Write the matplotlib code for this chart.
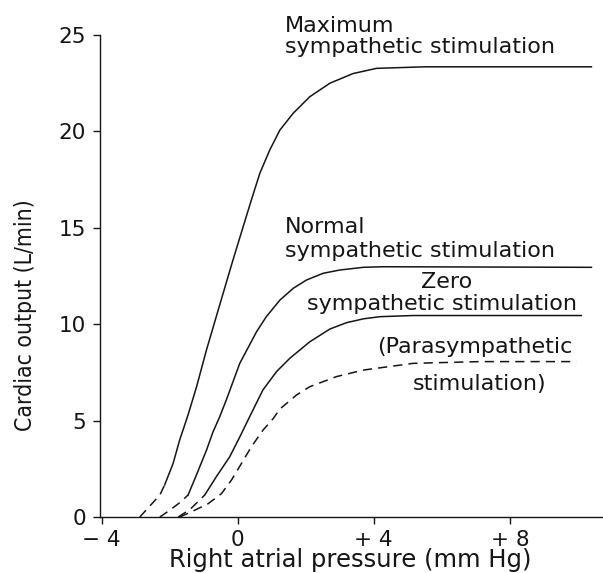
import matplotlib
matplotlib.use("Agg")
import matplotlib.pyplot as plt

# ---- data ----
max_dash_x = [-2.88, -2.74, -2.29, -2.15]
max_dash_y = [0.0, 0.27, 1.14, 1.66]
max_x = [-2.15, -1.90, -1.71, -1.46, -1.21, -0.92, -0.43, -0.14, 0.16, 0.40, 0.65,
         0.94, 1.24, 1.63, 2.12, 2.71, 3.39, 4.08, 5.5, 10.4]
max_y = [1.66, 2.78, 3.98, 5.3, 6.76, 8.66, 11.6, 13.33, 15.06, 16.44, 17.83,
         19.03, 20.07, 20.94, 21.8, 22.5, 23.0, 23.27, 23.35, 23.35]

norm_dash_x = [-2.29, -2.0, -1.7, -1.46]
norm_dash_y = [0.0, 0.35, 0.75, 1.14]
norm_x = [-1.46, -1.21, -0.92, -0.73, -0.53, -0.33, 0.06, 0.55, 0.84, 1.24, 1.63, 2.02,
          2.51, 3.0, 3.69, 4.27, 10.4]
norm_y = [1.14, 2.2, 3.46, 4.4, 5.2, 6.1, 7.97, 9.6, 10.39, 11.25, 11.86, 12.29,
          12.64, 12.81, 12.95, 12.98, 12.95]

zero_dash_x = [-1.75, -1.4, -0.97]
zero_dash_y = [0.0, 0.4, 1.14]
zero_x = [-0.97, -0.63, -0.24, 0.06, 0.35, 0.74, 1.14, 1.53, 2.12, 2.71, 3.2, 3.7, 4.18,
          5.16, 10.1]
zero_y = [1.14, 2.09, 3.11, 4.15, 5.2, 6.59, 7.54, 8.23, 9.09, 9.75, 10.08, 10.28, 10.39,
          10.45, 10.45]

para_x = [-1.71, -1.36, -0.87, -0.48, -0.19, 0.11, 0.40, 0.74, 1.04, 1.24, 1.73, 2.12,
          2.9, 3.69, 5.16, 7.12, 9.96]
para_y = [0.0, 0.27, 0.69, 1.21, 1.9, 2.78, 3.64, 4.5, 5.1, 5.6, 6.33, 6.76,
          7.28, 7.62, 7.97, 8.06, 8.06]

x_ticks = [-4, 0, 4, 8]
x_tick_labels = ["\u2212 4", "0", "+ 4", "+ 8"]
y_ticks = [0, 5, 10, 15, 20, 25]
y_tick_labels = ["0", "5", "10", "15", "20", "25"]

# ---- figure ----
W, H = 603, 573
fig = plt.figure(figsize=(W / 100, H / 100), dpi=100)
ax = fig.add_axes([100 / W, 56 / H, 503 / W, 482 / H])

ink = "#151515"
lw = 1.1
dash = (0, (6, 4))

ax.plot(max_dash_x, max_dash_y, color=ink, lw=lw, linestyle=dash, clip_on=False)
ax.plot(max_x, max_y, color=ink, lw=lw, clip_on=False)
ax.plot(norm_dash_x, norm_dash_y, color=ink, lw=lw, linestyle=dash, clip_on=False)
ax.plot(norm_x, norm_y, color=ink, lw=lw, clip_on=False)
ax.plot(zero_dash_x, zero_dash_y, color=ink, lw=lw, linestyle=dash, clip_on=False)
ax.plot(zero_x, zero_y, color=ink, lw=lw, clip_on=False)
ax.plot(para_x, para_y, color=ink, lw=lw, linestyle=dash, clip_on=False)

ax.set_xlim(-4.05, 10.74)
ax.set_ylim(0, 25)

for s in ["top", "right"]:
    ax.spines[s].set_visible(False)
for s in ["left", "bottom"]:
    ax.spines[s].set_linewidth(1.0)
    ax.spines[s].set_color(ink)

tick_font = dict(family="DejaVu Sans", size=15.5)
ax.set_xticks(x_ticks)
ax.set_xticklabels(x_tick_labels, **tick_font, color=ink)
ax.set_yticks(y_ticks)
ax.set_yticklabels(y_tick_labels, **tick_font, color=ink)
ax.tick_params(axis="both", direction="out", length=5, width=1.0, color=ink, pad=4)
ax.tick_params(axis="y", pad=5)

# axis labels
fig.text(350 / W, 1 - 567 / H, "Right atrial pressure (mm Hg)",
         ha="center", va="baseline", fontsize=17.5, family="DejaVu Sans", color=ink)
fig.text(26 / W, 1 - 315 / H, "Cardiac output (L/min)", rotation=90,
         ha="center", va="center", fontsize=16.5, fontstretch="condensed",
         family="DejaVu Sans", color=ink)

# curve annotations
afont = dict(fontsize=16, family="DejaVu Sans", color=ink)
ax.text(1.40, 25.16, "Maximum", ha="left", va="baseline", clip_on=False, **afont)
ax.text(1.40, 24.07, "sympathetic stimulation", ha="left", va="baseline", clip_on=False, **afont)
ax.text(1.40, 14.73, "Normal", ha="left", va="baseline", **afont)
ax.text(1.40, 13.49, "sympathetic stimulation", ha="left", va="baseline", **afont)
ax.text(6.15, 11.88, "Zero", ha="center", va="baseline", **afont)
ax.text(6.0, 10.72, "sympathetic stimulation", ha="center", va="baseline", **afont)
ax.text(6.97, 8.5, "(Parasympathetic", ha="center", va="baseline", **afont)
ax.text(7.12, 6.59, "stimulation)", ha="center", va="baseline", **afont)

fig.savefig("out.png", dpi=100, facecolor="white")
